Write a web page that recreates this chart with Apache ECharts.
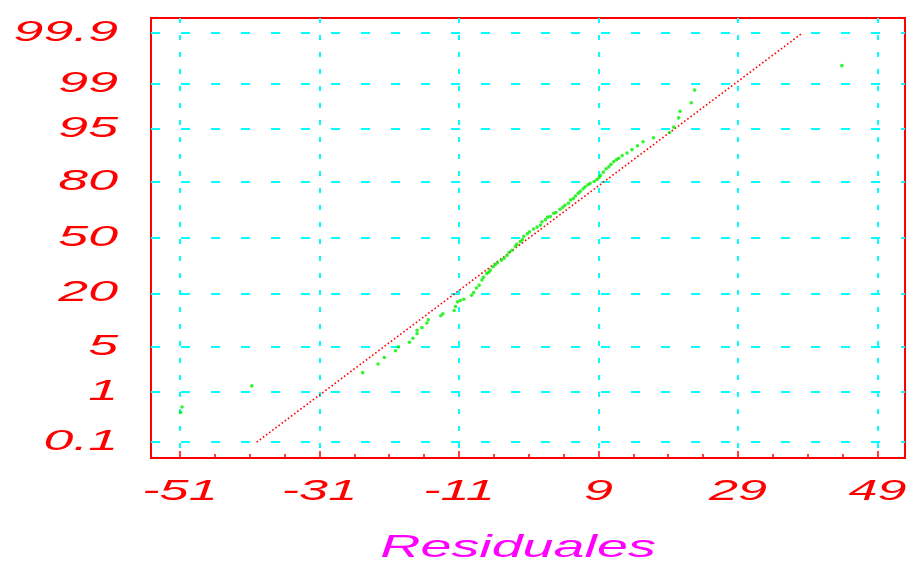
<!DOCTYPE html>
<html>
<head>
<meta charset="utf-8">
<script src="https://cdn.jsdelivr.net/npm/echarts@6/dist/echarts.min.js"></script>
<style>
html,body{margin:0;padding:0;background:#fff;}
#chart{width:908px;height:563px;}
</style>
</head>
<body>
<div id="chart"></div>
<script>
// ---- data ----
const residuals = [-50.9,-50.7,-40.7,-24.8,-22.6,-21.7,-20.1,-19.7,-18.1,-17.6,-17.0,-17.0,-16.3,-15.6,-15.4,-13.6,-13.3,-11.7,-11.5,-11.2,-10.8,-10.3,-9.2,-8.9,-8.5,-8.1,-7.7,-7.5,-7.0,-6.7,-6.5,-6.1,-5.8,-5.5,-4.9,-4.5,-4.1,-3.8,-3.4,-2.9,-2.7,-2.2,-1.9,-1.7,-1.2,-0.9,-0.3,0.2,0.7,0.9,1.4,1.7,2.1,2.6,2.9,3.5,3.9,4.2,4.7,5.0,5.4,5.7,6.1,6.4,6.8,7.1,7.5,7.8,8.4,8.8,9.1,9.3,9.7,10.1,10.5,10.8,11.2,11.6,11.9,12.4,13.1,13.8,14.6,15.4,16.9,19.2,19.8,20.5,20.7,22.3,22.8,43.9];
const normalScores = [-2.64,-2.56,-2.24,-2.04,-1.91,-1.81,-1.71,-1.65,-1.58,-1.52,-1.45,-1.40,-1.36,-1.29,-1.24,-1.18,-1.15,-1.10,-1.04,-0.97,-0.95,-0.93,-0.87,-0.83,-0.76,-0.72,-0.64,-0.60,-0.54,-0.52,-0.49,-0.44,-0.41,-0.38,-0.34,-0.31,-0.27,-0.22,-0.19,-0.13,-0.10,-0.06,-0.03,0.02,0.06,0.09,0.13,0.16,0.19,0.24,0.27,0.31,0.32,0.37,0.38,0.43,0.46,0.49,0.52,0.57,0.59,0.63,0.67,0.70,0.74,0.77,0.80,0.82,0.85,0.88,0.91,0.94,0.99,1.04,1.07,1.11,1.15,1.18,1.20,1.24,1.28,1.33,1.39,1.45,1.51,1.59,1.67,1.81,1.91,2.04,2.23,2.60];
const refLineX = [-40.0, 38.2];
const refLinePct = [0.1, 99.9];
const yTickPct = [0.1, 1, 5, 20, 50, 80, 95, 99, 99.9];
const yTickLabels = ['0.1', '1', '5', '20', '50', '80', '95', '99', '99.9'];
const xTickValues = [-51, -31, -11, 9, 29, 49];
const xTickLabels = ['-51', '-31', '-11', '9', '29', '49'];
const xMinorTicks = [-46, -41, -36, -26, -21, -16, -6, -1, 4, 14, 19, 24, 34, 39, 44];
const xTitle = 'Residuales';

// inverse standard normal CDF (Acklam)
function probit(p) {
  const a = [-3.969683028665376e+01, 2.209460984245205e+02, -2.759285104469687e+02, 1.383577518672690e+02, -3.066479806614716e+01, 2.506628277459239e+00];
  const b = [-5.447609879822406e+01, 1.615858368580409e+02, -1.556989798598866e+02, 6.680131188771972e+01, -1.328068155288572e+01];
  const c = [-7.784894002430293e-03, -3.223964580411365e-01, -2.400758277161838e+00, -2.549732539343734e+00, 4.374664141464968e+00, 2.938163982698783e+00];
  const d = [7.784695709041462e-03, 3.224671290700398e-01, 2.445134137142996e+00, 3.754408661907416e+00];
  const pl = 0.02425, ph = 1 - pl;
  let q, r;
  if (p < pl) {
    q = Math.sqrt(-2 * Math.log(p));
    return (((((c[0]*q+c[1])*q+c[2])*q+c[3])*q+c[4])*q+c[5]) / ((((d[0]*q+d[1])*q+d[2])*q+d[3])*q+1);
  } else if (p <= ph) {
    q = p - 0.5; r = q*q;
    return (((((a[0]*r+a[1])*r+a[2])*r+a[3])*r+a[4])*r+a[5])*q / (((((b[0]*r+b[1])*r+b[2])*r+b[3])*r+b[4])*r+1);
  } else {
    q = Math.sqrt(-2 * Math.log(1 - p));
    return -(((((c[0]*q+c[1])*q+c[2])*q+c[3])*q+c[4])*q+c[5]) / ((((d[0]*q+d[1])*q+d[2])*q+d[3])*q+1);
  }
}

const X_MIN = -55.15, X_MAX = 52.95, Y_MIN = -3.33, Y_MAX = 3.32;
const yTickZ = yTickPct.map(p => probit(p / 100));
const points = residuals.map((x, i) => [x, normalScores[i]]);
const refLine = refLineX.map((x, i) => [x, probit(refLinePct[i] / 100)]);

const RED = '#ff0000', CYAN = '#00ffff', GREEN = '#00f000', MAGENTA = '#ff00ff';
const FONT = '"Liberation Sans", Arial, sans-serif';

const chart = echarts.init(document.getElementById('chart'), null, {renderer: 'canvas'});
chart.setOption({
  animation: false,
  backgroundColor: '#ffffff',
  grid: {left: 151, top: 18, width: 754, height: 440, show: true, borderColor: RED, borderWidth: 2, backgroundColor: 'transparent'},
  xAxis: [{
    type: 'value', min: X_MIN, max: X_MAX, position: 'bottom',
    axisLine: {show: false, onZero: false},
    axisLabel: {show: false},
    axisTick: {show: true, inside: true, length: 7, customValues: xTickValues, lineStyle: {color: RED, width: 1.5}},
    splitLine: {show: true, lineStyle: {color: CYAN, width: 2, type: [5, 12]}}
  }, {
    type: 'value', min: X_MIN, max: X_MAX, position: 'bottom',
    axisLine: {show: false, onZero: false},
    axisLabel: {show: false},
    axisTick: {show: true, inside: true, length: 4, customValues: xMinorTicks, lineStyle: {color: RED, width: 1.5}},
    splitLine: {show: false}
  }],
  yAxis: {
    type: 'value', min: Y_MIN, max: Y_MAX,
    axisLine: {show: false, onZero: false},
    axisLabel: {show: false},
    axisTick: {show: false, customValues: yTickZ},
    splitLine: {show: true, lineStyle: {color: CYAN, width: 2, type: [9, 21]}}
  },
  graphic: [{
    type: 'text', x: 518, y: 548, scaleX: 1.74, silent: true,
    style: {text: xTitle, align: 'center', verticalAlign: 'middle', fill: MAGENTA,
      fontSize: 32, fontStyle: 'italic', fontFamily: FONT}
  }],
  series: [{
    type: 'line', data: refLine, symbol: 'none', silent: true, z: 3,
    lineStyle: {color: RED, width: 1.6, type: [1.6, 2.3]}
  }, {
    type: 'scatter', data: points, symbol: 'circle', symbolSize: 3.6, silent: true, z: 4,
    itemStyle: {color: GREEN}
  }, {
    type: 'custom', clip: false, silent: true, z: 5,
    data: yTickZ.map(z => [X_MIN, z]),
    renderItem: function (params, api) {
      const p = api.coord([api.value(0), api.value(1)]);
      return {type: 'text', x: p[0] - 33, y: p[1], scaleX: 1.85,
        style: {text: yTickLabels[params.dataIndex], align: 'right', verticalAlign: 'middle',
          fill: RED, fontSize: 29, fontStyle: 'italic', fontFamily: FONT}};
    }
  }, {
    type: 'custom', clip: false, silent: true, z: 5,
    data: xTickValues.map(v => [v, Y_MIN]),
    renderItem: function (params, api) {
      const p = api.coord([api.value(0), api.value(1)]);
      return {type: 'text', x: p[0], y: p[1] + 34, scaleX: 1.8,
        style: {text: xTickLabels[params.dataIndex], align: 'center', verticalAlign: 'middle',
          fill: RED, fontSize: 29, fontStyle: 'italic', fontFamily: FONT}};
    }
  }]
});
</script>
</body>
</html>
